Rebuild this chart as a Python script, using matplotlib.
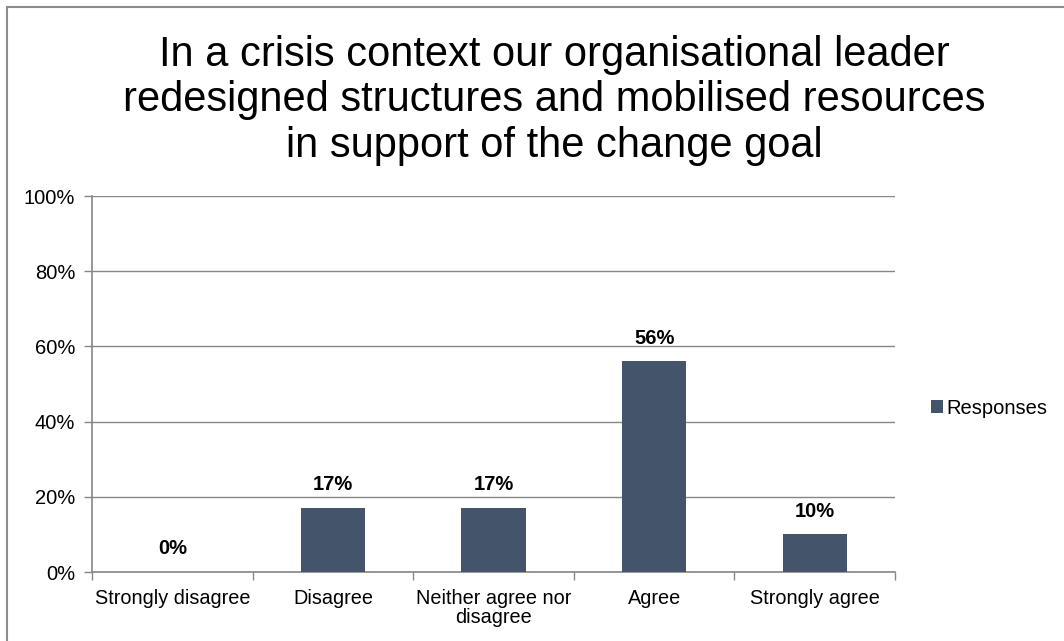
import matplotlib.pyplot as plt
from matplotlib.patches import Rectangle

# Datos de la encuesta
categorias = ['Strongly disagree', 'Disagree', 'Neither agree nor\ndisagree', 'Agree', 'Strongly agree']
respuestas = [0, 17, 17, 56, 10]
titulo = 'In a crisis context our organisational leader\nredesigned structures and mobilised resources\nin support of the change goal'

plt.rcParams['font.family'] = ['Liberation Sans', 'DejaVu Sans']

W, H = 1064, 641
fig = plt.figure(figsize=(W / 100, H / 100), dpi=100)

# Marco exterior del grafico
fig.patches.append(Rectangle((7 / W, -0.1), 1.2, (H - 7) / H + 0.1, transform=fig.transFigure,
                             fill=False, edgecolor='#8c8c8c', linewidth=1.5))

ax = fig.add_axes([92 / W, (H - 572) / H, (895 - 92) / W, (572 - 196) / H])

x = range(len(categorias))
barras = ax.bar(x, respuestas, width=0.4, color='#44546a', zorder=3, label='Responses')

for xi, v in zip(x, respuestas):
    ax.annotate(f'{v}%', (xi, v), xytext=(0, 10), textcoords='offset points',
                ha='center', va='bottom', fontsize=14.5, fontweight='bold')

ax.set_xlim(-0.5, len(categorias) - 0.5)
ax.set_ylim(0, 100)
ax.set_yticks(range(0, 101, 20))
ax.set_yticklabels([f'{t}%' for t in range(0, 101, 20)], fontsize=14.5)
ax.grid(axis='y', color='#868686', linewidth=1, zorder=0)

ax.set_xticks(x)
ax.set_xticklabels(categorias, fontsize=14.3, linespacing=1.0)
ax.set_xticks([i - 0.5 for i in range(len(categorias) + 1)], minor=True)
ax.tick_params(axis='x', which='major', length=0, pad=12)
ax.tick_params(axis='x', which='minor', length=6, color='#868686', width=1)
ax.tick_params(axis='y', length=6, color='#868686', width=1, pad=6)

for lado in ['top', 'right']:
    ax.spines[lado].set_visible(False)
for lado in ['left', 'bottom']:
    ax.spines[lado].set_color('#868686')
    ax.spines[lado].set_linewidth(1.2)

fig.text(554 / W, (H - 100.5) / H, titulo, ha='center', va='center', fontsize=30, linespacing=1.18)

fig.legend(handles=[barras], loc='center left', bbox_to_anchor=(931 / W, (H - 408) / H),
           frameon=False, fontsize=14.5, handlelength=0.6, handleheight=0.6,
           handletextpad=0.15, borderpad=0, borderaxespad=0)

fig.savefig('out.png', dpi=100)
